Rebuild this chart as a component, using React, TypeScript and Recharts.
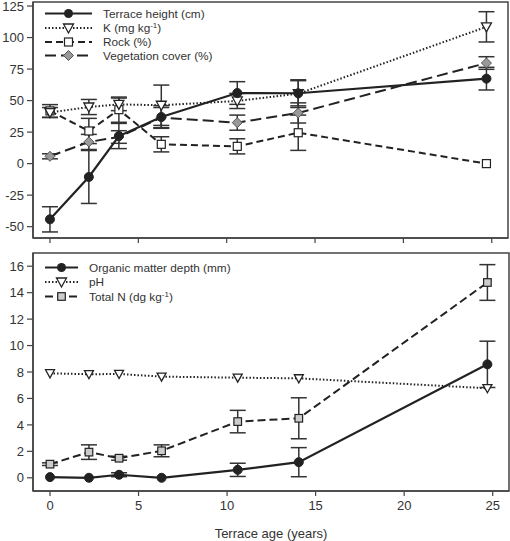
import React from 'react';
import { LineChart, Line, XAxis, YAxis, ErrorBar, Label } from 'recharts';

// ---- data ----
const ages = [0, 2.2, 3.9, 6.3, 10.6, 14.05, 24.7];

const terraceHeight = [-44.2, -10.6, 21.9, 37, 56, 55.8, 67.4];
const terraceHeightErr = [10, 21, 10, 9, 9, 10, 9];
const kValues = [40.5, 44.9, 47, 46.3, 49.7, 55.5, 108.5];
const kErr = [4, 6, 5, 16, 6, 11, 12];
const rock = [41.8, 25.9, 42.8, 15.3, 13.7, 24.5, 0];
const rockErr = [5, 10, 10, 6, 6, 14, 0];
const veg = [5.8, 17.2, 21.1, 36.5, 32.5, 40.2, 79.8];
const vegErr = [2, 6, 5, 8, 6, 8, 5];

const organicMatter = [0.05, 0, 0.23, 0, 0.6, 1.18, 8.58];
const organicMatterErr = [0, 0, 0.15, 0, 0.5, 1.1, 1.75];
const ph = [7.9, 7.83, 7.85, 7.65, 7.57, 7.52, 6.77];
const totalN = [1.03, 1.94, 1.48, 2.04, 4.25, 4.5, 14.77];
const totalNErr = [0.1, 0.55, 0.15, 0.45, 0.85, 1.55, 1.35];

const xTicks = [0, 5, 10, 15, 20, 25];
const topTicks = [-50, -25, 0, 25, 50, 75, 100, 125];
const bottomTicks = [0, 2, 4, 6, 8, 10, 12, 14, 16];

const topData = ages.map((age, i) => ({
  age,
  th: terraceHeight[i], thErr: terraceHeightErr[i],
  k: kValues[i], kErr: kErr[i],
  rock: rock[i], rockErr: rockErr[i],
  veg: veg[i], vegErr: vegErr[i],
}));

const bottomData = ages.map((age, i) => ({
  age,
  om: organicMatter[i], omErr: organicMatterErr[i],
  ph: ph[i],
  tn: totalN[i], tnErr: totalNErr[i],
}));

const INK = '#222';
const AX = '#444';
const X_DOMAIN: [number, number] = [-0.96, 25.92];
const TOP_DOMAIN: [number, number] = [-59, 128.2];
const BOTTOM_DOMAIN: [number, number] = [-1, 17];

// layout
const W = 510;
const Y_AXIS_W = 30;
const TOP_H = 250, TOP_MARGIN = { top: 2, right: 2, left: 3, bottom: 0 }, TOP_XAXIS_H = 12;
const BOT_H = 291, BOT_MARGIN = { top: 3, right: 1, left: 3, bottom: 0 }, BOT_XAXIS_H = 50;

const circleDot = (r: number) => (p: any) => (
  <circle key={`c${p.index}`} cx={p.cx} cy={p.cy} r={r} fill={INK} stroke={INK} strokeWidth={1} />
);
const triDot = (s: number) => (p: any) => (
  <path key={`t${p.index}`} d={`M${p.cx - s},${p.cy - s * 0.8} L${p.cx + s},${p.cy - s * 0.8} L${p.cx},${p.cy + s} Z`} fill="#fff" stroke={INK} strokeWidth={1.3} />
);
const squareDot = (s: number, fill: string) => (p: any) => (
  <rect key={`s${p.index}`} x={p.cx - s} y={p.cy - s} width={2 * s} height={2 * s} fill={fill} stroke={INK} strokeWidth={1.2} />
);
const diamondDot = (s: number, fill: string) => (p: any) => (
  <path key={`d${p.index}`} d={`M${p.cx},${p.cy - s} L${p.cx + s},${p.cy} L${p.cx},${p.cy + s} L${p.cx - s},${p.cy} Z`} fill={fill} stroke="#555" strokeWidth={1} />
);

const errProps = { width: 8, stroke: '#333', strokeWidth: 1.5, direction: 'y' as const };

const TopChart = () => (
  <LineChart width={W} height={TOP_H} data={topData} margin={TOP_MARGIN}>
    <XAxis dataKey="age" type="number" domain={X_DOMAIN} ticks={xTicks} allowDataOverflow
      tickFormatter={() => ''} height={TOP_XAXIS_H} tickSize={5}
      axisLine={{ stroke: AX, strokeWidth: 1.5 }} tickLine={{ stroke: AX, strokeWidth: 1.2 }} />
    <YAxis type="number" domain={TOP_DOMAIN} ticks={topTicks} allowDataOverflow interval={0}
      width={Y_AXIS_W} tickSize={6} tickMargin={3}
      tick={{ fill: '#333', fontSize: 13 }}
      axisLine={{ stroke: AX, strokeWidth: 1.5 }} tickLine={{ stroke: AX, strokeWidth: 1.2 }} />
    <Line dataKey="rock" stroke={INK} strokeWidth={2} strokeDasharray="7 4"
      dot={squareDot(4, '#fff')} isAnimationActive={false}>
      <ErrorBar dataKey="rockErr" {...errProps} />
    </Line>
    <Line dataKey="veg" stroke={INK} strokeWidth={2} strokeDasharray="11 5"
      dot={diamondDot(5, '#999')} isAnimationActive={false}>
      <ErrorBar dataKey="vegErr" {...errProps} />
    </Line>
    <Line dataKey="k" stroke={INK} strokeWidth={2} strokeDasharray="1.5 2"
      dot={triDot(5)} isAnimationActive={false}>
      <ErrorBar dataKey="kErr" {...errProps} />
    </Line>
    <Line dataKey="th" stroke={INK} strokeWidth={2.2}
      dot={circleDot(4.5)} isAnimationActive={false}>
      <ErrorBar dataKey="thErr" {...errProps} />
    </Line>
  </LineChart>
);

const BottomChart = () => (
  <LineChart width={W} height={BOT_H} data={bottomData} margin={BOT_MARGIN}>
    <XAxis dataKey="age" type="number" domain={X_DOMAIN} ticks={xTicks} allowDataOverflow
      height={BOT_XAXIS_H} tickSize={5} tickMargin={5}
      tick={{ fill: '#333', fontSize: 13 }}
      axisLine={{ stroke: AX, strokeWidth: 1.5 }} tickLine={{ stroke: AX, strokeWidth: 1.2 }}>
      <Label value="Terrace age (years)" position="insideBottom" offset={3} fill="#333" fontSize={13} />
    </XAxis>
    <YAxis type="number" domain={BOTTOM_DOMAIN} ticks={bottomTicks} allowDataOverflow interval={0}
      width={Y_AXIS_W} tickSize={6} tickMargin={3}
      tick={{ fill: '#333', fontSize: 13 }}
      axisLine={{ stroke: AX, strokeWidth: 1.5 }} tickLine={{ stroke: AX, strokeWidth: 1.2 }} />
    <Line dataKey="ph" stroke={INK} strokeWidth={2} strokeDasharray="1.5 2"
      dot={triDot(4.5)} isAnimationActive={false} />
    <Line dataKey="tn" stroke={INK} strokeWidth={2} strokeDasharray="8 4"
      dot={squareDot(3.8, '#ccc')} isAnimationActive={false}>
      <ErrorBar dataKey="tnErr" {...errProps} />
    </Line>
    <Line dataKey="om" stroke={INK} strokeWidth={2.2}
      dot={circleDot(4.5)} isAnimationActive={false}>
      <ErrorBar dataKey="omErr" {...errProps} />
    </Line>
  </LineChart>
);

const LegendRow = ({ y, x1, x2, text, dash, marker }: any) => {
  const mx = (x1 + x2) / 2;
  return (
    <g>
      <line x1={x1} x2={x2} y1={y} y2={y} stroke={INK} strokeWidth={2} strokeDasharray={dash} />
      {marker(mx, y)}
      <text x={x2 + 11} y={y} dy="0.35em" fontSize={11.8} fill="#333">{text}</text>
    </g>
  );
};

const mCircle = (x: number, y: number) => <circle cx={x} cy={y} r={4.5} fill={INK} />;
const mTri = (x: number, y: number) => (
  <path d={`M${x - 5},${y - 4} L${x + 5},${y - 4} L${x},${y + 5} Z`} fill="#fff" stroke={INK} strokeWidth={1.3} />
);
const mSquare = (fill: string, s: number) => (x: number, y: number) => (
  <rect x={x - s} y={y - s} width={2 * s} height={2 * s} fill={fill} stroke={INK} strokeWidth={1.2} />
);
const mDiamond = (x: number, y: number) => (
  <path d={`M${x},${y - 5} L${x + 5},${y} L${x},${y + 5} L${x - 5},${y} Z`} fill="#999" stroke="#555" strokeWidth={1} />
);

const sup = (base: string) => (
  <>
    {base}
    <tspan dy="-4" fontSize={8}>-1</tspan>
    <tspan dy="4">)</tspan>
  </>
);

// plot-area frames derived from the chart layout constants
const topFrame = {
  x: TOP_MARGIN.left + Y_AXIS_W, y: TOP_MARGIN.top,
  w: W - TOP_MARGIN.right - TOP_MARGIN.left - Y_AXIS_W,
  h: TOP_H - TOP_MARGIN.top - TOP_MARGIN.bottom - TOP_XAXIS_H,
};
const botFrame = {
  x: BOT_MARGIN.left + Y_AXIS_W, y: TOP_H + BOT_MARGIN.top,
  w: W - BOT_MARGIN.right - BOT_MARGIN.left - Y_AXIS_W,
  h: BOT_H - BOT_MARGIN.top - BOT_MARGIN.bottom - BOT_XAXIS_H,
};

const Overlay = () => (
  <svg width={W} height={TOP_H + BOT_H} style={{ position: 'absolute', left: 0, top: 0, pointerEvents: 'none' }}>
    {[topFrame, botFrame].map((f, i) => (
      <rect key={i} x={f.x} y={f.y} width={f.w} height={f.h} fill="none" stroke={AX} strokeWidth={1.5} />
    ))}
    <LegendRow y={13.5} x1={45} x2={92} text="Terrace height (cm)" marker={mCircle} />
    <LegendRow y={28} x1={45} x2={92} text={sup('K (mg kg')} dash="1.5 2" marker={mTri} />
    <LegendRow y={42} x1={45} x2={92} text="Rock (%)" dash="7 4" marker={mSquare('#fff', 4)} />
    <LegendRow y={55.5} x1={45} x2={92} text="Vegetation cover (%)" dash="11 5" marker={mDiamond} />

    <LegendRow y={267.5} x1={45} x2={78} text="Organic matter depth (mm)" marker={mCircle} />
    <LegendRow y={282} x1={45} x2={78} text="pH" dash="1.5 2" marker={mTri} />
    <LegendRow y={296.5} x1={45} x2={78} text={sup('Total N (dg kg')} dash="8 4" marker={mSquare('#ccc', 3.8)} />
  </svg>
);

export default function App() {
  return (
    <div style={{ position: 'absolute', left: 0, top: 0, width: W, height: TOP_H + BOT_H, background: '#fff', fontFamily: '"Liberation Sans", Arial, sans-serif' }}>
      <div style={{ position: 'absolute', left: 0, top: 0 }}>
        <TopChart />
      </div>
      <div style={{ position: 'absolute', left: 0, top: TOP_H }}>
        <BottomChart />
      </div>
      <Overlay />
    </div>
  );
}
